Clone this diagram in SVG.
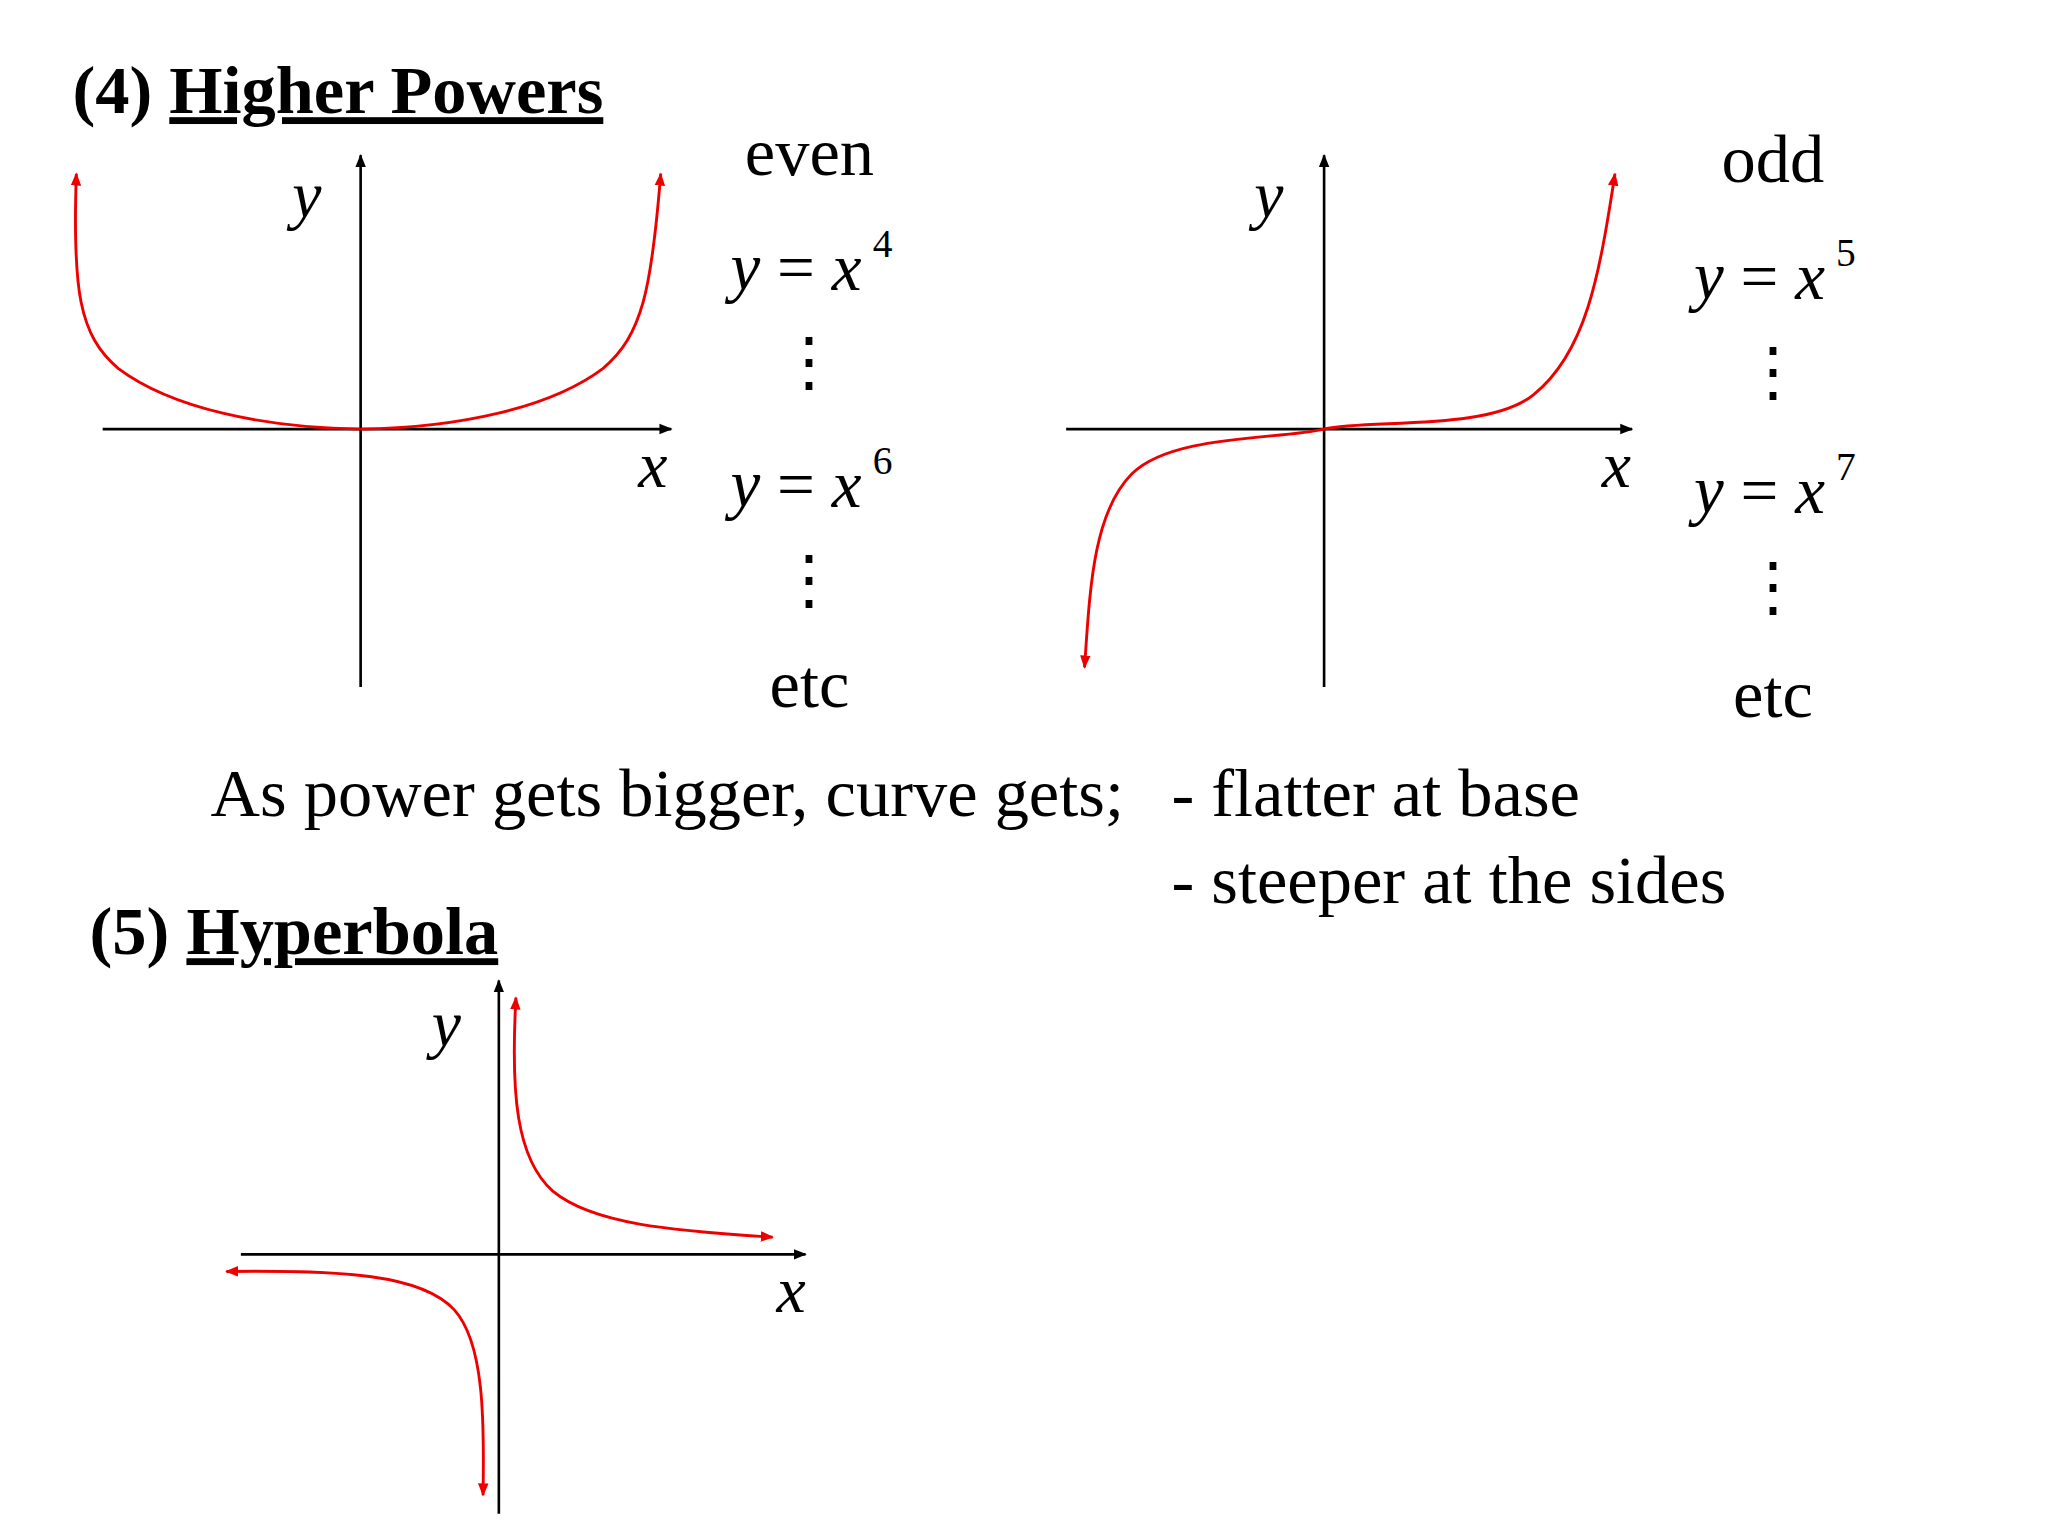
<svg xmlns="http://www.w3.org/2000/svg" width="2048" height="1536" viewBox="0 0 2048 1536">
<defs>
<marker id="ab" markerWidth="10" markerHeight="10" refX="9" refY="5" orient="auto" markerUnits="userSpaceOnUse"><path d="M0,1 L10,5 L0,9 Z" fill="#000"/></marker>
<marker id="ar" markerWidth="10" markerHeight="10" refX="9" refY="5" orient="auto-start-reverse" markerUnits="userSpaceOnUse"><path d="M0,1 L10,5 L0,9 Z" fill="#e00"/></marker>
<style>
.t{font-family:"Liberation Serif",serif;fill:#000}
.h{font-weight:bold;font-size:52px}
.i{font-style:italic;font-size:50px}
.n{font-size:52px}
.e{font-size:51px}
.s{font-size:30px}
.d{font-size:50px}
.ax{stroke:#000;stroke-width:2;fill:none;marker-end:url(#ab)}
.c{stroke:#e00;stroke-width:2.2;fill:none;marker-end:url(#ar)}
</style>
</defs>
<rect width="2048" height="1536" fill="#fff"/>
<g transform="scale(1.3162)">
<g id="title4"><text class="t h" x="55" y="86">(4) <tspan text-decoration="underline">Higher Powers</tspan></text></g>
<g id="graph-even">
<line class="ax" x1="274" y1="522" x2="274" y2="118"/>
<line class="ax" x1="78" y1="326" x2="510" y2="326"/>
<path class="c" d="M274,326 C200,325 130,310 90,280 C60,255 55,220 58,132"/>
<path class="c" d="M274,326 C348,325 418,310 458,280 C488,255 495,220 502,132"/>
<text class="t i" x="222" y="165">y</text>
<text class="t i" x="485" y="370">x</text>
</g>
<g id="even-list">
<text class="t n" x="615" y="133" text-anchor="middle">even</text>
<text class="t e" x="555" y="220"><tspan font-style="italic">y</tspan> = <tspan font-style="italic">x</tspan></text>
<text class="t s" x="663" y="195">4</text>
<text class="t d" x="615" y="292" text-anchor="middle">⋮</text>
<text class="t e" x="555" y="385"><tspan font-style="italic">y</tspan> = <tspan font-style="italic">x</tspan></text>
<text class="t s" x="663" y="360">6</text>
<text class="t d" x="615" y="457" text-anchor="middle">⋮</text>
<text class="t n" x="615" y="537" text-anchor="middle">etc</text>
</g>
<g id="graph-odd">
<line class="ax" x1="1006" y1="522" x2="1006" y2="118"/>
<line class="ax" x1="810" y1="326" x2="1240" y2="326"/>
<path class="c" d="M1006,326 C1040,318 1130,328 1165,300 C1205,268 1215,210 1227,132"/>
<path class="c" d="M1006,326 C972,334 890,330 860,360 C830,390 828,450 824,507"/>
<text class="t i" x="953" y="165">y</text>
<text class="t i" x="1217" y="370">x</text>
</g>
<g id="odd-list">
<text class="t n" x="1347" y="138" text-anchor="middle">odd</text>
<text class="t e" x="1287" y="227"><tspan font-style="italic">y</tspan> = <tspan font-style="italic">x</tspan></text>
<text class="t s" x="1395" y="202">5</text>
<text class="t d" x="1347" y="299" text-anchor="middle">⋮</text>
<text class="t e" x="1287" y="390"><tspan font-style="italic">y</tspan> = <tspan font-style="italic">x</tspan></text>
<text class="t s" x="1395" y="365">7</text>
<text class="t d" x="1347" y="463" text-anchor="middle">⋮</text>
<text class="t n" x="1347" y="545" text-anchor="middle">etc</text>
</g>
<g id="notes">
<text class="t n" x="160" y="620">As power gets bigger, curve gets;</text>
<text class="t n" x="890" y="620">- flatter at base</text>
<text class="t n" x="890" y="686">- steeper at the sides</text>
</g>
<g id="title5"><text class="t h" x="68" y="725">(5) <tspan text-decoration="underline">Hyperbola</tspan></text></g>
<g id="graph-hyp">
<line class="ax" x1="379" y1="1150" x2="379" y2="745"/>
<line class="ax" x1="183" y1="953" x2="612" y2="953"/>
<path class="c" style="marker-start:url(#ar)" d="M392,758 C388,830 392,880 420,905 C450,930 510,935 587,940"/>
<path class="c" style="marker-start:url(#ar)" d="M172,966 C260,965 320,968 345,995 C368,1020 368,1080 367,1136"/>
<text class="t i" x="328" y="795">y</text>
<text class="t i" x="590" y="997">x</text>
</g>
</g>
</svg>
